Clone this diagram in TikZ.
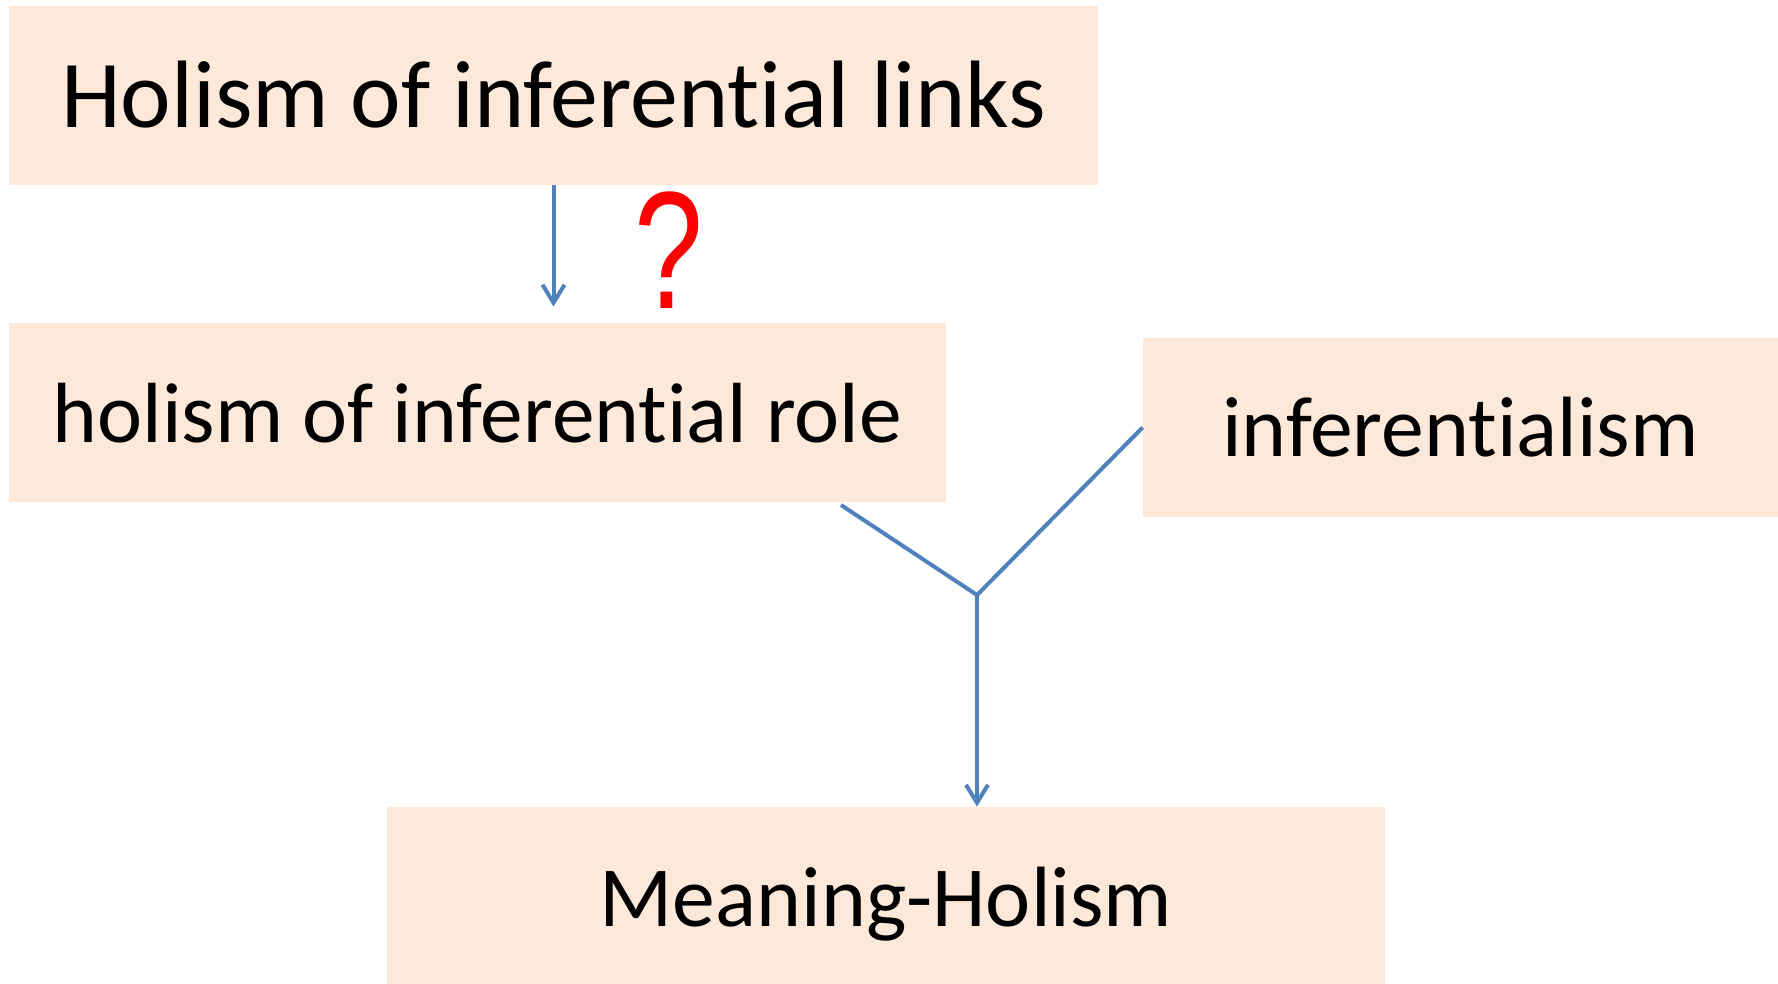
\documentclass[tikz,border=0pt]{standalone}
\usepackage{fontspec}
\setmainfont{Carlito}[Ligatures=NoCommon]
\newfontfamily\qfont{Liberation Sans}
\usetikzlibrary{arrows.meta,calc}
\definecolor{boxfill}{HTML}{FCE9DA}
\definecolor{linkblue}{HTML}{4F81BD}
\tikzset{
  slide/.style={
    x=0.5pt, y=-0.5pt,
  },
  claim/.style={
      fill=boxfill,
      inner sep=0pt,
      minimum height=89.5pt,
      text height=#1,
      text depth=0pt,
  },
  claim/.default=30pt,
  link/.style={
      draw=linkblue,
      line width=2pt,
  },
  linkarrow/.style={
      link,
      -{Straight Barb[length=9pt,width=11pt]},
  },
}

\begin{document}
\begin{tikzpicture}[slide]
    \useasboundingbox (0,0) rectangle (1778,984);
    \node[claim=32.5pt, minimum width=544.5pt, font=\fontsize{47.9}{57}\selectfont]
        (links) at (553.5,95.5) {Holism of inferential links};
    \node[claim=29.5pt, minimum width=468.5pt, font=\fontsize{42.7}{51}\selectfont]
        (role) at (477.5,412.5) {holism of inferential role};
    \node[claim=28.5pt, minimum width=317.5pt, font=\fontsize{42.8}{51}\selectfont]
        (infer) at (1460.5,427.5) {inferentialism};
    \node[claim=31pt, minimum width=499pt, minimum height=88.5pt, font=\fontsize{42.8}{51}\selectfont]
        (meaning) at (886,895.5) {Meaning-Holism};
    \node[anchor=base, text=red, inner sep=0pt, xscale=0.74, font=\qfont\fontsize{83.6}{100}\selectfont]
        (qmark) at (668.5,309) {?};

    \coordinate (left) at (841,505);
    \coordinate (join) at (977,595);

    \draw[linkarrow] (links.south) -- ($(links.south |- role.north)+(0,-16)$);
    \draw[link] (left) -- (join) -- (infer.west);
    \draw[linkarrow] (join) -- (join |- meaning.north);
\end{tikzpicture}
\end{document}
